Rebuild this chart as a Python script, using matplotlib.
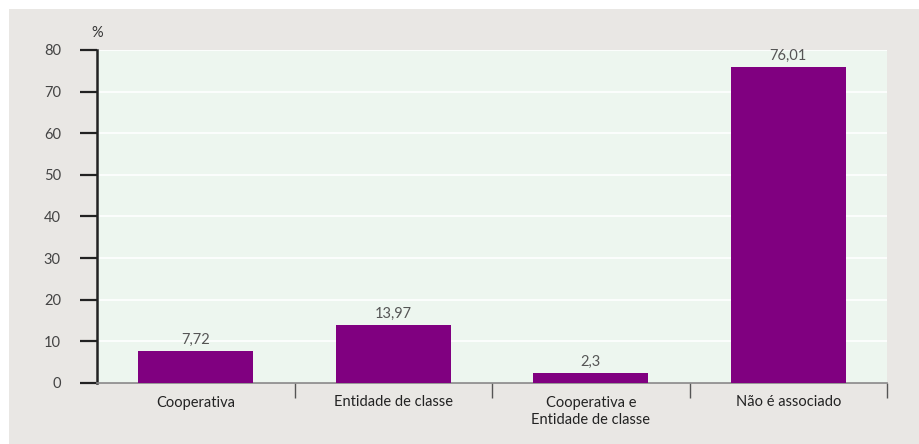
import matplotlib
matplotlib.use("Agg")
import matplotlib.pyplot as plt
from matplotlib.patches import Rectangle
import numpy as np

categories = ["Cooperativa", "Entidade de classe", "Cooperativa e\nEntidade de classe", "Não é associado"]
values = [7.72, 13.97, 2.3, 76.01]
value_labels = ["7,72", "13,97", "2,3", "76,01"]
yticks = [0, 10, 20, 30, 40, 50, 60, 70, 80]

plt.rcParams["font.family"] = ["Lato", "DejaVu Sans"]

W, H = 919, 444
fig = plt.figure(figsize=(W / 100, H / 100), dpi=100)
fig.patch.set_facecolor("white")

# grey panel behind the chart
fig.patches.append(Rectangle((9 / W, 0), 1 - 9 / W, (H - 9) / H,
                             transform=fig.transFigure, facecolor="#e9e7e4",
                             edgecolor="none", zorder=-10))

left, right, top, bottom = 97, 887, 50, 383
ax = fig.add_axes([left / W, 1 - bottom / H, (right - left) / W, (bottom - top) / H])
ax.set_zorder(1)
ax.set_facecolor("#edf6ef")

x = np.arange(len(categories))
ax.bar(x, values, width=0.58, color="#800080", zorder=3)
ax.set_xlim(-0.5, len(categories) - 0.5)
ax.set_ylim(0, 80)

for xi, v, lab in zip(x, values, value_labels):
    ax.annotate(lab, (xi, v), xytext=(0, 3), textcoords="offset points",
                ha="center", va="bottom", fontsize=10.5, color="#555555")

ax.set_yticks(yticks)
ax.set_yticklabels([str(t) for t in yticks], fontsize=10.5, color="#444444")
ax.yaxis.grid(True, color="white", linewidth=1.2, zorder=1)
ax.set_axisbelow(True)

# category labels centred, boundary ticks between categories
ax.set_xticks(x)
ax.set_xticklabels(categories, fontsize=10.5, color="#222222", linespacing=1.3)
ax.tick_params(axis="x", which="major", length=0, pad=9)
ax.set_xticks(np.arange(0.5, len(categories)), minor=True)
ax.tick_params(axis="x", which="minor", length=11, width=1, color="#555555", direction="out")
ax.tick_params(axis="y", length=12, width=1.6, color="#222222", direction="out", pad=14)

for s in ["top", "right"]:
    ax.spines[s].set_visible(False)
ax.spines["left"].set_color("#222222")
ax.spines["left"].set_linewidth(1.8)
ax.spines["bottom"].set_color("#888888")
ax.spines["bottom"].set_linewidth(1.2)

fig.text(left / W, 1 - 33 / H, "%", ha="center", va="center", fontsize=10.5, color="#333333")

fig.savefig("out.png", dpi=100, facecolor=fig.get_facecolor())
